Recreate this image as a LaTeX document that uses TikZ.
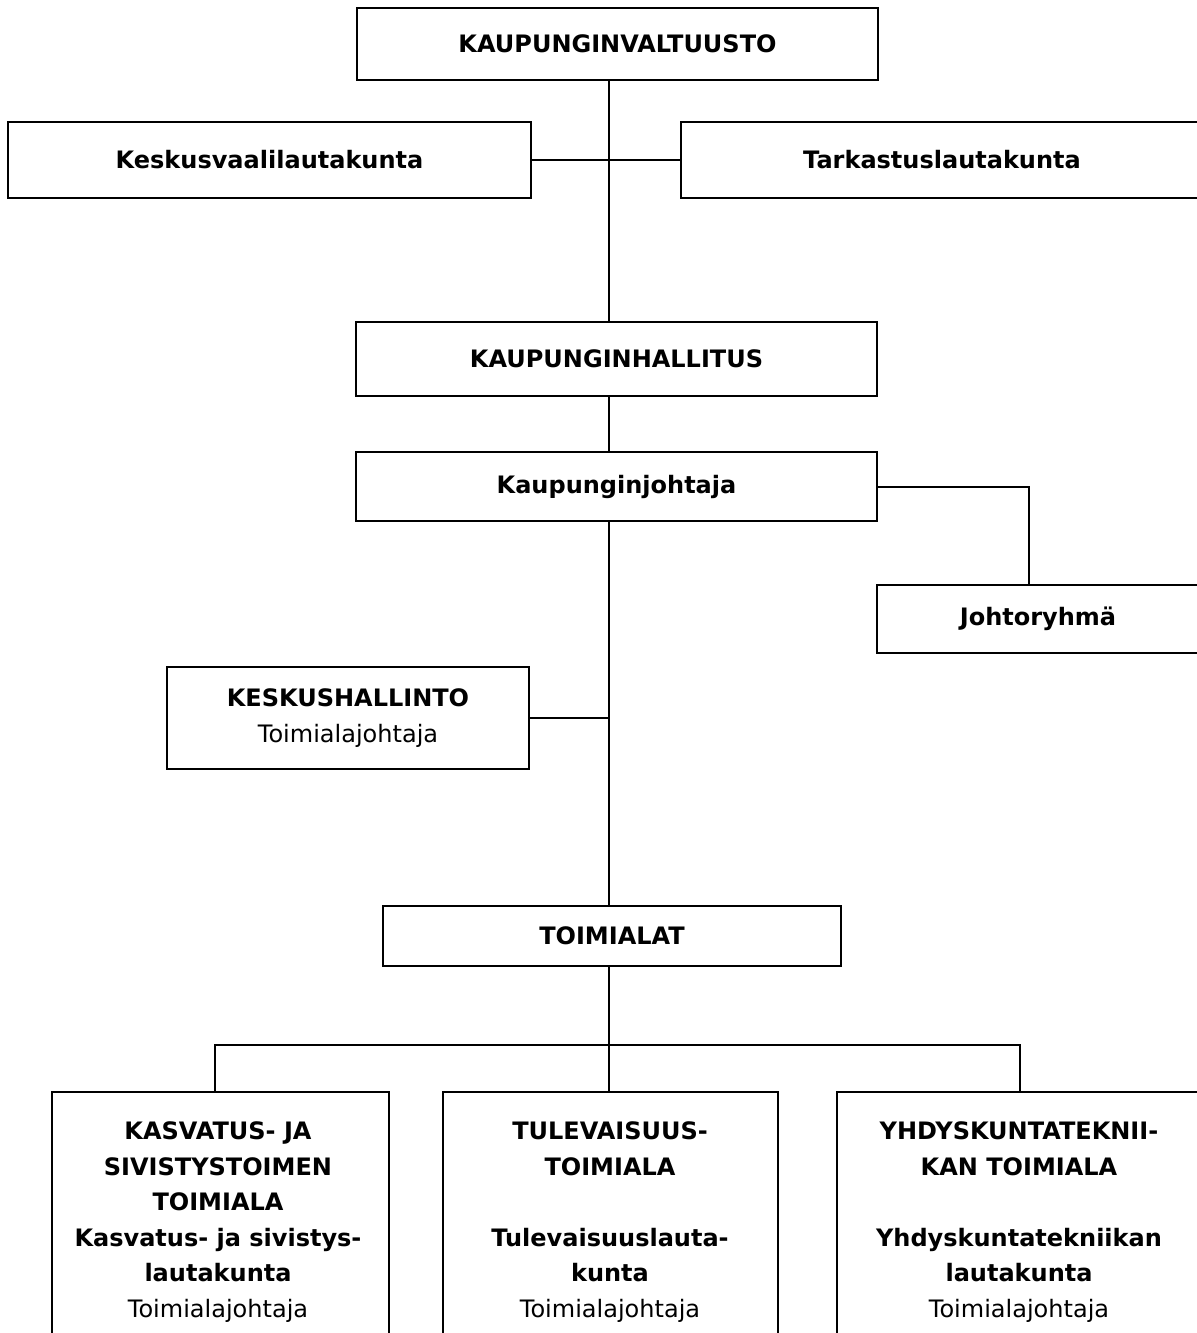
\documentclass[tikz,border=0pt]{standalone}
\usepackage{fontspec}
\setmainfont{DejaVu Sans}

\begin{document}
\begin{tikzpicture}[x=0.5pt, y=-0.5pt, line width=1pt,
    box/.style={rectangle, draw, line width=1pt, inner sep=0pt, align=center, font=\fontsize{12}{17.75}\selectfont\bfseries},
    boxtext/.style={inner sep=0pt, align=center, font=\fontsize{12}{17.75}\selectfont\bfseries}]
    \useasboundingbox (0, 0) rectangle (1197, 1333);
    \clip (0, 0) rectangle (1197, 1333);

    \node[box, minimum width=260.5pt, minimum height=36pt] (valtuusto) at (617.5, 44) {KAUPUNGINVALTUUSTO};
    \node[box, minimum width=261.5pt, minimum height=38pt] (vaali) at (269.5, 160) {Keskusvaalilautakunta};
    \node[box, minimum width=261pt, minimum height=38pt] (tarkastus) at (942, 160) {Tarkastuslautakunta};
    \node[box, minimum width=260.5pt, minimum height=37pt] (hallitus) at (616.5, 359) {KAUPUNGINHALLITUS};
    \node[box, minimum width=260.5pt, minimum height=34.5pt] (johtaja) at (616.5, 486.5) {Kaupunginjohtaja};
    \node[box, minimum width=161pt, minimum height=34pt] (johtoryhma) at (1038, 619) {Johtoryhmä};
    \node[box, minimum width=181pt, minimum height=51pt] (keskus) at (348, 718) {KESKUSHALLINTO\\\mdseries Toimialajohtaja};
    \node[box, minimum width=229pt, minimum height=30pt] (toimialat) at (612, 936) {TOIMIALAT};

    \node[box, minimum width=168.5pt, minimum height=130pt] (kasvatus) at (220.5, 1222) {};
    \node[box, minimum width=167.5pt, minimum height=130pt] (tulevaisuus) at (610.5, 1222) {};
    \node[box, minimum width=183pt, minimum height=130pt] (yhdys) at (1020, 1222) {};

    \node[boxtext, anchor=north] (kasvatusteksti) at (218, 1121) {KASVATUS- JA\\SIVISTYSTOIMEN\\TOIMIALA\\Kasvatus- ja sivistys-\\lautakunta\\\mdseries Toimialajohtaja};
    \node[boxtext, anchor=north] (tulevaisuusteksti) at (610, 1121) {TULEVAISUUS-\\TOIMIALA\\\mbox{}\\Tulevaisuuslauta-\\kunta\\\mdseries Toimialajohtaja};
    \node[boxtext, anchor=north] (yhdysteksti) at (1019, 1121) {YHDYSKUNTATEKNII-\\KAN TOIMIALA\\\mbox{}\\Yhdyskuntatekniikan\\lautakunta\\\mdseries Toimialajohtaja};

    \coordinate (trunk) at (609, 0);
    \coordinate (bus) at (0, 1045);

    \draw (valtuusto.south -| trunk) -- (hallitus.north -| trunk);
    \draw (vaali) -- (tarkastus);
    \draw (hallitus.south -| trunk) -- (johtaja.north -| trunk);
    \draw (johtaja.east) -| ([xshift=-4.5pt]johtoryhma.north);
    \draw (johtaja.south -| trunk) -- (toimialat.north -| trunk);
    \draw (keskus) -- (keskus -| trunk);
    \draw (toimialat.south -| trunk) -- (tulevaisuus.north -| trunk);
    \draw ([xshift=-2.75pt]kasvatus.north) -- ([xshift=-2.75pt]kasvatus.north |- bus) -- (yhdys.north |- bus) -- (yhdys.north);

\end{tikzpicture}
\end{document}
